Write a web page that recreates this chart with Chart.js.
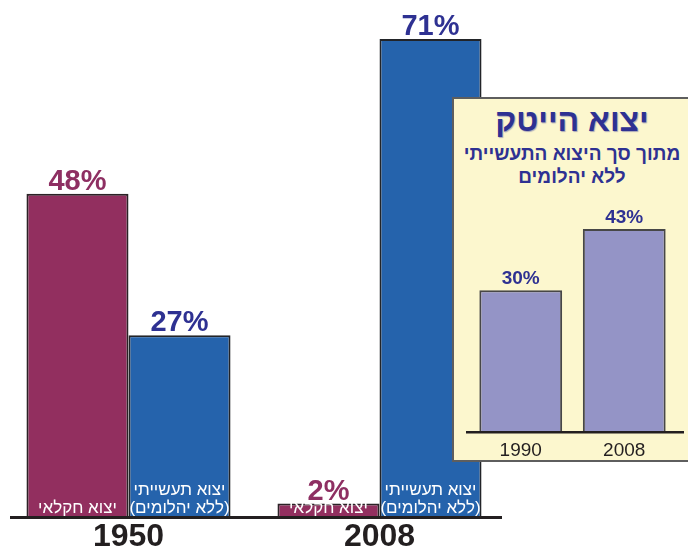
<!DOCTYPE html>
<html lang="he">
<head>
<meta charset="utf-8">
<script src="https://cdn.jsdelivr.net/npm/chart.js@4/dist/chart.umd.min.js"></script>
<style>
  html, body { margin: 0; padding: 0; background: #fff; overflow: hidden; }
  body { width: 688px; height: 551px; position: relative; font-family: "Liberation Sans", Arial, sans-serif; }
  #mainChart { position: absolute; left: 0; top: 0; }
  #hitechBox {
    position: absolute; left: 452px; top: 97px; width: 240px; height: 365px;
    box-sizing: border-box; border: 2px solid #5e5e5e; background: #fcf7ce;
  }
  #hitechBox .t1, #hitechBox .t2 {
    position: absolute; left: 0; right: 0; text-align: center; color: #2e3192; font-weight: bold;
  }
  #hitechBox .t1 { top: 3px; font-size: 32px; line-height: 36px; text-shadow: 1px 1px 1px #a9a7b8; }
  #hitechBox .t2 { top: 43px; font-size: 19px; line-height: 23px; }
  #hitechChart { position: absolute; left: 452px; top: 190px; }
</style>
</head>
<body>
<canvas id="mainChart" width="688" height="551"></canvas>
<div id="hitechBox" dir="rtl">
  <div class="t1">יצוא הייטק</div>
  <div class="t2">מתוך סך היצוא התעשייתי<br>ללא יהלומים</div>
</div>
<canvas id="hitechChart" width="236" height="271"></canvas>
<script>
// main chart data
const years = ['1950', '2008'];
const agriValues = [48, 2];
const industryValues = [27, 71];
const agriText = ['יצוא חקלאי'];
const industryText = ['יצוא תעשייתי', '(ללא יהלומים)'];

// inset: hi-tech share of industrial export
const hitechYears = ['1990', '2008'];
const hitechValues = [30, 43];

const FONT = '"Liberation Sans", Arial, sans-serif';
const MAROON = '#922f5f';
const BLUE = '#2563ac';
const NAVY = '#2e3192';
const LAVENDER = '#9494c6';
const INK = '#231f20';

const mainLabels = {
  id: 'mainLabels',
  afterDatasetsDraw(chart) {
    const ctx = chart.ctx;
    chart.data.datasets.forEach((ds, di) => {
      chart.getDatasetMeta(di).data.forEach((bar, i) => {
        ctx.save();
        ctx.textAlign = 'center';
        ctx.textBaseline = 'alphabetic';
        ctx.font = `bold 29px ${FONT}`;
        ctx.fillStyle = ds.valueColor;
        ctx.fillText(ds.data[i] + '%', bar.x, bar.y - 4);

        // white caption at the foot of the bar
        ctx.font = `17px ${FONT}`;
        ctx.fillStyle = '#fff';
        ctx.direction = 'rtl';
        const lines = ds.caption;
        lines.forEach((line, li) => {
          const y = 513 - (lines.length - 1 - li) * 18;
          ctx.fillText(line, bar.x, y);
        });
        ctx.restore();
      });
    });
    // base line
    ctx.save();
    ctx.fillStyle = INK;
    ctx.fillRect(10, 516, 492, 3);
    ctx.restore();
  }
};

new Chart(document.getElementById('mainChart'), {
  type: 'bar',
  data: {
    labels: years,
    datasets: [
      {
        label: agriText.join(' '),
        data: agriValues,
        backgroundColor: MAROON,
        borderColor: '#2b2226',
        borderWidth: 2,
        valueColor: '#8e2f62',
        caption: agriText
      },
      {
        label: industryText.join(' '),
        data: industryValues,
        backgroundColor: BLUE,
        borderColor: '#222428',
        borderWidth: 2,
        valueColor: NAVY,
        caption: industryText
      }
    ]
  },
  options: {
    responsive: false,
    animation: false,
    layout: { padding: { top: 39, left: 3, right: 183, bottom: 0 } },
    datasets: { bar: { categoryPercentage: 0.813, barPercentage: 1 } },
    plugins: { legend: { display: false }, tooltip: { enabled: false } },
    scales: {
      x: {
        grid: { display: false, drawTicks: false },
        border: { display: false },
        ticks: { color: INK, padding: 1, font: { family: FONT, size: 32, weight: 'bold' } },
        afterFit: (s) => { s.height = 34; }
      },
      y: { display: false, min: 0, max: 71 }
    }
  },
  plugins: [mainLabels]
});

const hitechLabels = {
  id: 'hitechLabels',
  afterDatasetsDraw(chart) {
    const ctx = chart.ctx;
    const ds = chart.data.datasets[0];
    chart.getDatasetMeta(0).data.forEach((bar, i) => {
      ctx.save();
      ctx.textAlign = 'center';
      ctx.font = `bold 19px ${FONT}`;
      ctx.fillStyle = NAVY;
      ctx.fillText(ds.data[i] + '%', bar.x, bar.y - 6);
      ctx.restore();
    });
    ctx.save();
    ctx.fillStyle = INK;
    ctx.fillRect(14, 241, 218, 2.5);
    ctx.restore();
  }
};

new Chart(document.getElementById('hitechChart'), {
  type: 'bar',
  data: {
    labels: hitechYears,
    datasets: [{
      label: 'יצוא הייטק',
      data: hitechValues,
      backgroundColor: LAVENDER,
      borderColor: '#474747',
      borderWidth: 2
    }]
  },
  options: {
    responsive: false,
    animation: false,
    layout: { padding: { top: 39, left: 17, right: 12, bottom: 0 } },
    datasets: { bar: { categoryPercentage: 0.8, barPercentage: 1 } },
    plugins: { legend: { display: false }, tooltip: { enabled: false } },
    scales: {
      x: {
        grid: { display: false, drawTicks: false },
        border: { display: false },
        ticks: { color: INK, padding: 7, font: { family: FONT, size: 19 } },
        afterFit: (s) => { s.height = 29; }
      },
      y: { display: false, min: 0, max: 43 }
    }
  },
  plugins: [hitechLabels]
});
</script>
</body>
</html>
